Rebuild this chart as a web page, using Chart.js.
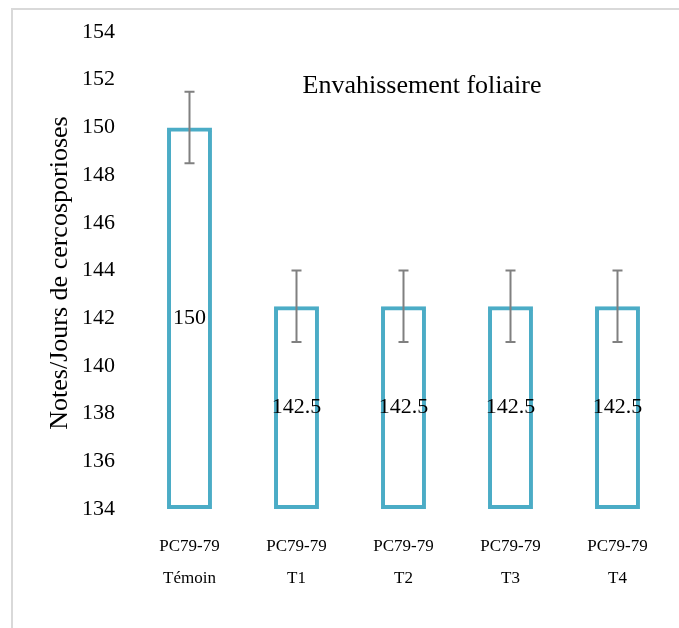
<!DOCTYPE html>
<html>
<head>
<meta charset="utf-8">
<script src="https://cdn.jsdelivr.net/npm/chart.js@4.4.0/dist/chart.umd.min.js"></script>
<style>
  html, body { margin: 0; padding: 0; background: #fff; }
  #wrap { width: 679px; height: 628px; position: relative; }
</style>
</head>
<body>
<div id="wrap"><canvas id="chartCanvas" width="679" height="628"></canvas></div>
<script>
// données
const varietes = ['PC79-79', 'PC79-79', 'PC79-79', 'PC79-79', 'PC79-79'];
const traitements = ['Témoin', 'T1', 'T2', 'T3', 'T4'];
const notes = [150, 142.5, 142.5, 142.5, 142.5];
const erreurs = [1.5, 1.5, 1.5, 1.5, 1.5];
const etiquettes = ['150', '142.5', '142.5', '142.5', '142.5'];
const yMin = 134, yMax = 154, yPas = 2;

const serif = "'Liberation Serif', 'Times New Roman', serif";

// cadre gris clair autour du graphique
const cadre = {
    id: 'cadre',
    beforeDraw(chart) {
        const c = chart.ctx;
        c.save();
        c.strokeStyle = '#d9d9d9';
        c.lineWidth = 2;
        c.beginPath();
        c.moveTo(12, 628);
        c.lineTo(12, 9);
        c.lineTo(679, 9);
        c.stroke();
        c.restore();
    }
};

// barres d'erreur + valeurs au centre des barres + titres
const extras = {
    id: 'extras',
    afterDatasetsDraw(chart) {
        const c = chart.ctx;
        const y = chart.scales.y;
        const meta = chart.getDatasetMeta(0);
        c.save();
        c.strokeStyle = '#808080';
        c.lineWidth = 2;
        meta.data.forEach((bar, i) => {
            const top = y.getPixelForValue(notes[i] + erreurs[i]);
            const bot = y.getPixelForValue(notes[i] - erreurs[i]);
            c.beginPath();
            c.moveTo(bar.x, top); c.lineTo(bar.x, bot);
            c.moveTo(bar.x - 5, top); c.lineTo(bar.x + 5, top);
            c.moveTo(bar.x - 5, bot); c.lineTo(bar.x + 5, bot);
            c.stroke();
        });
        c.fillStyle = '#000';
        c.font = '22px ' + serif;
        c.textAlign = 'center';
        c.textBaseline = 'middle';
        meta.data.forEach((bar, i) => {
            const mid = y.getPixelForValue((notes[i] + yMin) / 2);
            c.fillText(etiquettes[i], bar.x, mid);
        });
        c.font = '26px ' + serif;
        c.fillText('Envahissement foliaire', 422, 86);
        // titre de l'axe vertical
        c.translate(60, 273);
        c.rotate(-Math.PI / 2);
        c.fillText('Notes/Jours de cercosporioses', 0, 0);
        c.restore();
    }
};

const ctx = document.getElementById('chartCanvas').getContext('2d');
new Chart(ctx, {
    type: 'bar',
    data: {
        labels: varietes.map((v, i) => [v, traitements[i]]),
        datasets: [{
            data: notes,
            base: yMin,
            backgroundColor: 'rgba(255,255,255,0)',
            borderColor: '#4bacc6',
            borderWidth: 4,
            borderSkipped: false,
            barPercentage: 0.42,
            categoryPercentage: 1
        }]
    },
    options: {
        responsive: false,
        animation: false,
        layout: { padding: { top: 32, right: 8, left: 0, bottom: 0 } },
        plugins: { legend: { display: false }, tooltip: { enabled: false } },
        scales: {
            y: {
                min: yMin,
                max: yMax,
                ticks: { stepSize: yPas, color: '#000', padding: 13, font: { family: serif, size: 22 } },
                grid: { display: false },
                border: { display: false },
                afterFit(scale) { scale.width = 136; }
            },
            x: {
                ticks: { color: '#000', padding: 13, font: { family: serif, size: 17, lineHeight: 1.9 } },
                grid: { display: false },
                border: { display: false },
                afterFit(scale) { scale.height = 119; }
            }
        }
    },
    plugins: [cadre, extras]
});
</script>
</body>
</html>
